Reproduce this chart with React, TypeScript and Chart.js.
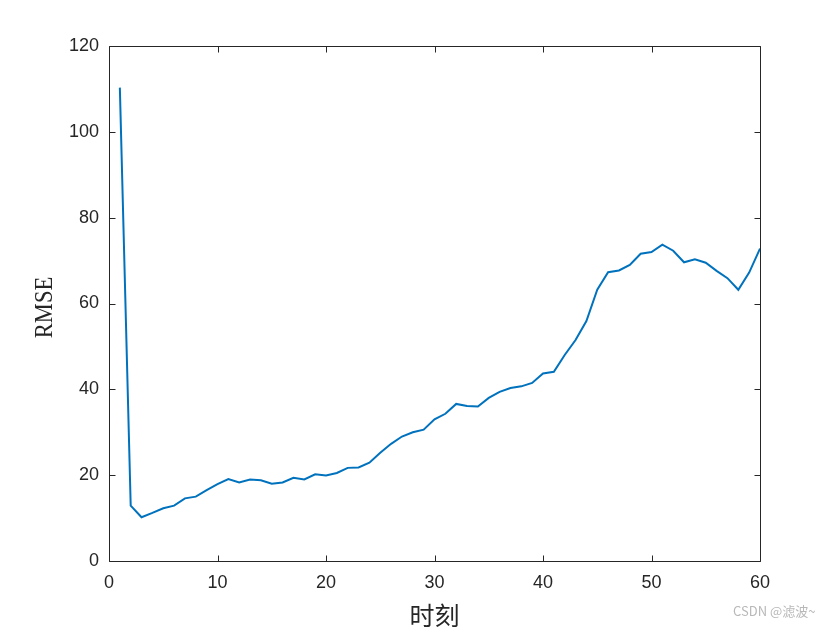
import React, { useEffect, useRef } from "react";
import { Chart, registerables } from "chart.js";

Chart.register(...registerables);

const times = [
  1, 2, 3, 4, 5, 6, 7, 8, 9, 10, 11, 12, 13, 14, 15, 16, 17, 18, 19, 20,
  21, 22, 23, 24, 25, 26, 27, 28, 29, 30, 31, 32, 33, 34, 35, 36, 37, 38, 39, 40,
  41, 42, 43, 44, 45, 46, 47, 48, 49, 50, 51, 52, 53, 54, 55, 56, 57, 58, 59, 60,
];

const rmse = [
  110.3, 12.9, 10.2, 11.2, 12.3, 12.9, 14.6, 15.0, 16.5, 17.9,
  19.1, 18.3, 19.0, 18.8, 18.0, 18.3, 19.4, 19.0, 20.2, 19.9,
  20.5, 21.7, 21.8, 22.9, 25.2, 27.3, 29.0, 30.0, 30.6, 33.0,
  34.3, 36.6, 36.1, 36.0, 38.0, 39.4, 40.3, 40.7, 41.5, 43.7,
  44.1, 48.0, 51.5, 55.9, 63.2, 67.3, 67.7, 69.0, 71.6, 72.0,
  73.7, 72.3, 69.6, 70.3, 69.5, 67.6, 65.9, 63.2, 67.2, 72.8,
];

const xTickValues = [0, 10, 20, 30, 40, 50, 60];
const yTickValues = [0, 20, 40, 60, 80, 100, 120];

const xTitle = "时刻";
const yTitle = "RMSE";
const watermark = "CSDN @滤波~";

const AXIS_COLOR = "#262626";
const LINE_COLOR = "#0072BD";

const boxPlugin = {
  id: "matlabBox",
  afterDraw(chart: any) {
    const { ctx, chartArea, scales } = chart;
    const { left, right, top, bottom } = chartArea;
    const tl = 6;
    ctx.save();
    ctx.strokeStyle = AXIS_COLOR;
    ctx.lineWidth = 1;
    ctx.beginPath();
    ctx.rect(left + 0.5, top + 0.5, right - left, bottom - top);
    const xs = scales.x;
    xs.ticks.forEach((t: any) => {
      const p = Math.round(xs.getPixelForValue(t.value)) + 0.5;
      ctx.moveTo(p, bottom + 0.5);
      ctx.lineTo(p, bottom + 0.5 - tl);
      ctx.moveTo(p, top + 0.5);
      ctx.lineTo(p, top + 0.5 + tl);
    });
    const ys = scales.y;
    ys.ticks.forEach((t: any) => {
      const p = Math.round(ys.getPixelForValue(t.value)) + 0.5;
      ctx.moveTo(left + 0.5, p);
      ctx.lineTo(left + 0.5 + tl, p);
      ctx.moveTo(right + 0.5, p);
      ctx.lineTo(right + 0.5 - tl, p);
    });
    ctx.stroke();

    // y-axis title (condensed serif, rotated)
    const cy = (top + bottom) / 2 + 4;
    ctx.translate(45, cy);
    ctx.rotate(-Math.PI / 2);
    ctx.scale(0.9, 1);
    ctx.fillStyle = AXIS_COLOR;
    ctx.font = "25px 'Liberation Serif', 'Times New Roman', serif";
    ctx.textAlign = "center";
    ctx.textBaseline = "middle";
    ctx.fillText(yTitle, 0, 0);
    ctx.restore();
  },
};

export default function App() {
  const ref = useRef<HTMLCanvasElement | null>(null);

  useEffect(() => {
    if (!ref.current) return;
    const chart = new Chart(ref.current, {
      type: "line",
      data: {
        datasets: [
          {
            data: times.map((t, i) => ({ x: t, y: rmse[i] })),
            borderColor: LINE_COLOR,
            borderWidth: 2,
            pointRadius: 0,
            tension: 0,
            fill: false,
          },
        ],
      },
      options: {
        responsive: false,
        animation: false,
        events: [],
        layout: { padding: { left: 0, top: 46, right: 80, bottom: 0 } },
        plugins: {
          legend: { display: false },
          tooltip: { enabled: false },
        },
        scales: {
          x: {
            type: "linear",
            min: 0,
            max: 60,
            afterBuildTicks: (s: any) => {
              s.ticks = xTickValues.map((v) => ({ value: v }));
            },
            afterFit: (s: any) => {
              s.height = 69;
            },
            grid: { display: false, drawTicks: false, tickLength: 0 },
            border: { display: false },
            ticks: {
              color: AXIS_COLOR,
              font: { family: "'Liberation Sans', Arial, sans-serif", size: 18 },
              padding: 11,
              maxRotation: 0,
            },
            title: {
              display: true,
              text: xTitle,
              color: AXIS_COLOR,
              font: { family: "'Noto Sans CJK SC', sans-serif", size: 25 },
              padding: { top: 0, bottom: 0 },
            },
          },
          y: {
            type: "linear",
            min: 0,
            max: 120,
            afterBuildTicks: (s: any) => {
              s.ticks = yTickValues.map((v) => ({ value: v }));
            },
            afterFit: (s: any) => {
              s.width = 109;
            },
            grid: { display: false, drawTicks: false, tickLength: 0 },
            border: { display: false },
            ticks: {
              color: AXIS_COLOR,
              font: { family: "'Liberation Sans', Arial, sans-serif", size: 18 },
              padding: 10,
            },
            title: { display: false },
          },
        },
      },
      plugins: [boxPlugin],
    });
    return () => chart.destroy();
  }, []);

  return (
    <div
      style={{
        position: "fixed",
        left: 0,
        top: 0,
        width: 840,
        height: 630,
        background: "#ffffff",
      }}
    >
      <canvas ref={ref} width={840} height={630} style={{ display: "block" }} />
      <div
        style={{
          position: "absolute",
          left: 733,
          top: 603,
          fontFamily: "'Noto Sans CJK SC', 'Liberation Sans', sans-serif",
          fontSize: 13,
          color: "#b8b8b8",
          whiteSpace: "nowrap",
          lineHeight: "16px",
        }}
      >
        {watermark}
      </div>
    </div>
  );
}
